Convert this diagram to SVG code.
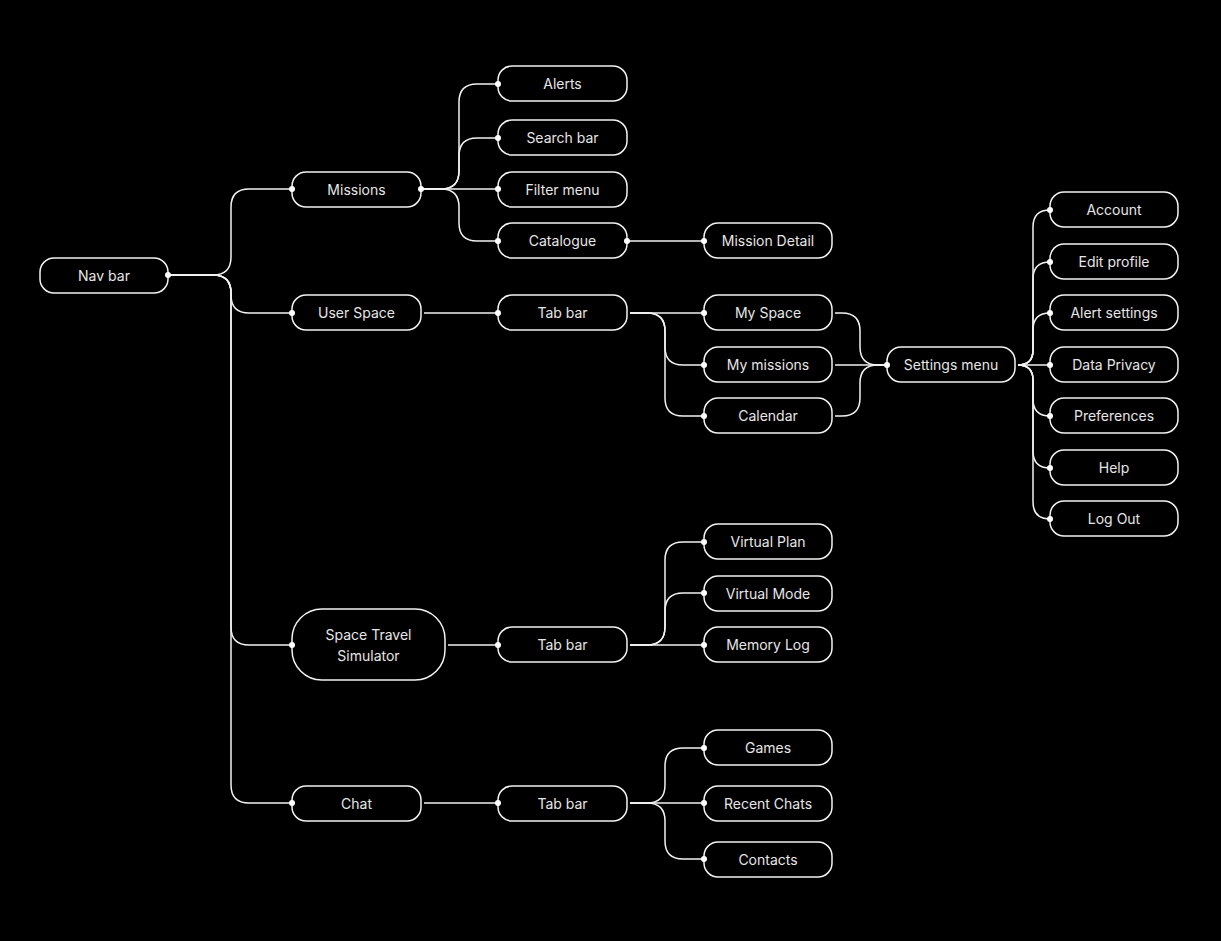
<svg xmlns="http://www.w3.org/2000/svg" width="1221" height="941" viewBox="0 0 1221 941">
<style>
.n rect{fill:#000;stroke:#f2f2f2;stroke-width:1.5}
.n text{fill:#e6e6e6;font-family:Inter,"Noto Sans",sans-serif;font-size:14px;text-anchor:middle;dominant-baseline:central}
#connectors path{fill:none;stroke:#f2f2f2;stroke-width:1.5}
.d circle{fill:#fff}
</style>
<rect width="1221" height="941" fill="#000"/>
<g id="connectors">
<path d="M168,275 H213 Q231,275 231,257 V207 Q231,189 249,189 H292"/>
<path d="M168,275 H213 Q231,275 231,293 V295 Q231,313 249,313 H292"/>
<path d="M168,275 H213 Q231,275 231,293 V627 Q231,645 249,645 H292"/>
<path d="M168,275 H213 Q231,275 231,293 V785 Q231,803 249,803 H292"/>
<path d="M421,189 H441 Q459,189 459,171 V102 Q459,84 477,84 H498"/>
<path d="M421,189 H441 Q459,189 459,171 V156 Q459,138 477,138 H498"/>
<path d="M421,189 H498"/>
<path d="M421,189 H441 Q459,189 459,207 V223 Q459,241 477,241 H498"/>
<path d="M627,241 H704"/>
<path d="M424,313 H498"/>
<path d="M448,645 H498"/>
<path d="M424,803 H498"/>
<path d="M630,313 H704"/>
<path d="M630,313 H647 Q665,313 665,331 V347 Q665,365 683,365 H704"/>
<path d="M630,313 H647 Q665,313 665,331 V398 Q665,416 683,416 H704"/>
<path d="M835,313 H842 Q860,313 860,331 V347 Q860,365 878,365 H887"/>
<path d="M835,365 H887"/>
<path d="M835,416 H842 Q860,416 860,398 V383 Q860,365 878,365 H887"/>
<path d="M1018,365 Q1033,365 1033,350 V227 Q1033,210 1050,210"/>
<path d="M1018,365 Q1033,365 1033,350 V279 Q1033,262 1050,262"/>
<path d="M1018,365 Q1033,365 1033,350 V330 Q1033,313 1050,313"/>
<path d="M1018,365 H1050"/>
<path d="M1018,365 Q1033,365 1033,380 V399 Q1033,416 1050,416"/>
<path d="M1018,365 Q1033,365 1033,380 V451 Q1033,468 1050,468"/>
<path d="M1018,365 Q1033,365 1033,380 V502 Q1033,519 1050,519"/>
<path d="M630,645 H647 Q665,645 665,627 V560 Q665,542 683,542 H704"/>
<path d="M630,645 H647 Q665,645 665,627 V611 Q665,593 683,593 H704"/>
<path d="M630,645 H704"/>
<path d="M630,803 H647 Q665,803 665,785 V766 Q665,748 683,748 H704"/>
<path d="M630,803 H704"/>
<path d="M630,803 H647 Q665,803 665,821 V841 Q665,859 683,859 H704"/>
</g>
<g id="nodes">
<g id="nav-bar" class="n"><rect x="40" y="258" width="128" height="35" rx="14"/><text x="104" y="275.5">Nav bar</text></g>
<g id="missions" class="n"><rect x="292" y="172" width="129" height="35" rx="14"/><text x="356.5" y="189.5">Missions</text></g>
<g id="user-space" class="n"><rect x="292" y="295" width="129" height="35" rx="14"/><text x="356.5" y="312.5">User Space</text></g>
<g id="space-travel" class="n"><rect x="292" y="609" width="153" height="71" rx="30"/><text x="368.5" y="634.5">Space Travel</text><text x="368.5" y="655.5">Simulator</text></g>
<g id="chat" class="n"><rect x="292" y="786" width="129" height="35" rx="14"/><text x="356.5" y="803.5">Chat</text></g>
<g id="alerts" class="n"><rect x="498" y="66" width="129" height="35" rx="14"/><text x="562.5" y="83.5">Alerts</text></g>
<g id="search-bar" class="n"><rect x="498" y="120" width="129" height="35" rx="14"/><text x="562.5" y="137.5">Search bar</text></g>
<g id="filter-menu" class="n"><rect x="498" y="172" width="129" height="35" rx="14"/><text x="562.5" y="189.5">Filter menu</text></g>
<g id="catalogue" class="n"><rect x="498" y="223" width="129" height="35" rx="14"/><text x="562.5" y="240.5">Catalogue</text></g>
<g id="tab-bar-1" class="n"><rect x="498" y="295" width="129" height="35" rx="14"/><text x="562.5" y="312.5">Tab bar</text></g>
<g id="tab-bar-2" class="n"><rect x="498" y="627" width="129" height="35" rx="14"/><text x="562.5" y="644.5">Tab bar</text></g>
<g id="tab-bar-3" class="n"><rect x="498" y="786" width="129" height="35" rx="14"/><text x="562.5" y="803.5">Tab bar</text></g>
<g id="mission-detail" class="n"><rect x="704" y="223" width="128" height="35" rx="14"/><text x="768" y="240.5">Mission Detail</text></g>
<g id="my-space" class="n"><rect x="704" y="295" width="128" height="35" rx="14"/><text x="768" y="312.5">My Space</text></g>
<g id="my-missions" class="n"><rect x="704" y="347" width="128" height="35" rx="14"/><text x="768" y="364.5">My missions</text></g>
<g id="calendar" class="n"><rect x="704" y="398" width="128" height="35" rx="14"/><text x="768" y="415.5">Calendar</text></g>
<g id="virtual-plan" class="n"><rect x="704" y="524" width="128" height="35" rx="14"/><text x="768" y="541.5">Virtual Plan</text></g>
<g id="virtual-mode" class="n"><rect x="704" y="576" width="128" height="35" rx="14"/><text x="768" y="593.5">Virtual Mode</text></g>
<g id="memory-log" class="n"><rect x="704" y="627" width="128" height="35" rx="14"/><text x="768" y="644.5">Memory Log</text></g>
<g id="games" class="n"><rect x="704" y="730" width="128" height="35" rx="14"/><text x="768" y="747.5">Games</text></g>
<g id="recent-chats" class="n"><rect x="704" y="786" width="128" height="35" rx="14"/><text x="768" y="803.5">Recent Chats</text></g>
<g id="contacts" class="n"><rect x="704" y="842" width="128" height="35" rx="14"/><text x="768" y="859.5">Contacts</text></g>
<g id="settings-menu" class="n"><rect x="887" y="347" width="128" height="35" rx="14"/><text x="951" y="364.5">Settings menu</text></g>
<g id="account" class="n"><rect x="1050" y="192" width="128" height="35" rx="14"/><text x="1114" y="209.5">Account</text></g>
<g id="edit-profile" class="n"><rect x="1050" y="244" width="128" height="35" rx="14"/><text x="1114" y="261.5">Edit profile</text></g>
<g id="alert-settings" class="n"><rect x="1050" y="295" width="128" height="35" rx="14"/><text x="1114" y="312.5">Alert settings</text></g>
<g id="data-privacy" class="n"><rect x="1050" y="347" width="128" height="35" rx="14"/><text x="1114" y="364.5">Data Privacy</text></g>
<g id="preferences" class="n"><rect x="1050" y="398" width="128" height="35" rx="14"/><text x="1114" y="415.5">Preferences</text></g>
<g id="help" class="n"><rect x="1050" y="450" width="128" height="35" rx="14"/><text x="1114" y="467.5">Help</text></g>
<g id="log-out" class="n"><rect x="1050" y="501" width="128" height="35" rx="14"/><text x="1114" y="518.5">Log Out</text></g>
</g>
<g id="dots" class="d">
<circle cx="168" cy="275" r="3"/>
<circle cx="292" cy="189" r="3"/><circle cx="421" cy="189" r="3"/>
<circle cx="292" cy="313" r="3"/><circle cx="292" cy="645" r="3"/><circle cx="292" cy="803" r="3"/>
<circle cx="498" cy="84" r="3"/><circle cx="498" cy="138" r="3"/><circle cx="498" cy="189" r="3"/><circle cx="498" cy="241" r="3"/>
<circle cx="627" cy="241" r="3"/>
<circle cx="498" cy="313" r="3"/><circle cx="498" cy="645" r="3"/><circle cx="498" cy="803" r="3"/>
<circle cx="704" cy="241" r="3"/><circle cx="704" cy="313" r="3"/><circle cx="704" cy="365" r="3"/><circle cx="704" cy="416" r="3"/>
<circle cx="704" cy="542" r="3"/><circle cx="704" cy="593" r="3"/><circle cx="704" cy="645" r="3"/>
<circle cx="704" cy="748" r="3"/><circle cx="704" cy="803" r="3"/><circle cx="704" cy="859" r="3"/>
<circle cx="887" cy="365" r="3"/>
<circle cx="1050" cy="210" r="3"/><circle cx="1050" cy="262" r="3"/><circle cx="1050" cy="313" r="3"/><circle cx="1050" cy="365" r="3"/><circle cx="1050" cy="416" r="3"/><circle cx="1050" cy="468" r="3"/><circle cx="1050" cy="519" r="3"/>
</g>
</svg>
